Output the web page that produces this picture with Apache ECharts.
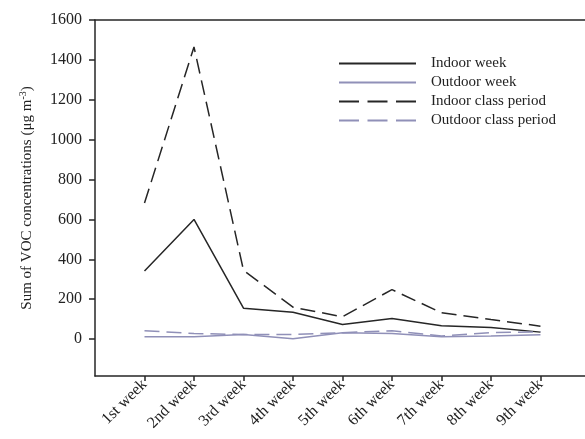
<!DOCTYPE html>
<html>
<head>
<meta charset="utf-8">
<script src="https://cdn.jsdelivr.net/npm/echarts@6/dist/echarts.min.js"></script>
<style>html,body{margin:0;padding:0;background:#fff}#c{width:585px;height:439px}</style>
</head>
<body>
<div id="c"></div>
<script>
const categories = ['1st week','2nd week','3rd week','4th week','5th week','6th week','7th week','8th week','9th week'];
const indoorWeek = [342, 600, 155, 135, 73, 103, 67, 58, 35];
const outdoorWeek = [12, 12, 23, 2, 32, 28, 12, 16, 22];
const indoorClass = [682, 1465, 345, 160, 112, 248, 132, 98, 65];
const outdoorClass = [42, 28, 23, 23, 32, 42, 16, 32, 37];
const yTicks = [0, 200, 400, 600, 800, 1000, 1200, 1400, 1600];
const seriesNames = ['Indoor week', 'Outdoor week', 'Indoor class period', 'Outdoor class period'];

const FONT = 'Liberation Serif';
const BLACK = '#262626';
const PURPLE = '#9090b8';
const xPos = categories.map((c, i) => i + 1);
const toPts = arr => arr.map((v, i) => [xPos[i], v]);

const chart = echarts.init(document.getElementById('c'), null, {renderer: 'canvas'});
chart.setOption({
  animation: false,
  backgroundColor: '#fff',
  textStyle: {fontFamily: FONT, color: '#222'},
  grid: {left: 95, top: 20, right: 0, bottom: 63, containLabel: false},
  legend: {
    orient: 'vertical', left: 333, top: 51,
    itemWidth: 77, itemHeight: 10, itemGap: 4,
    itemStyle: {opacity: 0},
    textStyle: {fontFamily: FONT, fontSize: 15, color: '#222', padding: [0, 0, 0, 10]},
    data: [
      {name: seriesNames[0]},
      {name: seriesNames[1]},
      {name: seriesNames[2], lineStyle: {type: [20, 8.5]}},
      {name: seriesNames[3], lineStyle: {type: [20, 8.5]}}
    ]
  },
  xAxis: [{
    type: 'value', min: 0, max: 9.9,
    axisLine: {onZero: false, lineStyle: {color: BLACK, width: 1.5}},
    axisTick: {show: true, length: 5, lineStyle: {color: BLACK, width: 1.5}, customValues: xPos},
    axisLabel: {
      customValues: xPos,
      formatter: v => categories[Math.round(v) - 1] || '',
      rotate: 45, margin: 6, fontFamily: FONT, fontSize: 16, color: '#222'
    },
    splitLine: {show: false}
  }, {
    type: 'value', min: 0, max: 9.9, position: 'top',
    axisLine: {show: true, onZero: false, lineStyle: {color: BLACK, width: 1.5}},
    axisTick: {show: false}, axisLabel: {show: false}, splitLine: {show: false}
  }],
  yAxis: {
    type: 'value', min: -185, max: 1600,
    name: 'Sum of VOC concentrations (μg m{sup|-3})',
    nameLocation: 'middle', nameGap: 59, nameRotate: 90,
    nameTextStyle: {fontFamily: FONT, fontSize: 15, color: '#222',
      rich: {sup: {fontFamily: FONT, fontSize: 10, color: '#222', verticalAlign: 'top', padding: [0,0,8,0]}}},
    axisLine: {show: true, onZero: false, lineStyle: {color: BLACK, width: 1.5}},
    axisTick: {show: true, length: 6, lineStyle: {color: BLACK, width: 1.5}, customValues: yTicks},
    axisLabel: {customValues: yTicks, formatter: v => String(v), margin: 13, fontFamily: FONT, fontSize: 16, color: '#222'},
    splitLine: {show: false}
  },
  series: [
    {name: seriesNames[0], type: 'line', data: toPts(indoorWeek), symbol: 'none',
     lineStyle: {color: BLACK, width: 1.5}, itemStyle: {color: BLACK}},
    {name: seriesNames[1], type: 'line', data: toPts(outdoorWeek), symbol: 'none',
     lineStyle: {color: PURPLE, width: 1.5}, itemStyle: {color: PURPLE}},
    {name: seriesNames[2], type: 'line', data: toPts(indoorClass), symbol: 'none',
     lineStyle: {color: BLACK, width: 1.5, type: [15, 7]}, itemStyle: {color: BLACK}},
    {name: seriesNames[3], type: 'line', data: toPts(outdoorClass), symbol: 'none',
     lineStyle: {color: PURPLE, width: 1.5, type: [15, 7]}, itemStyle: {color: PURPLE}}
  ]
});
</script>
</body>
</html>
